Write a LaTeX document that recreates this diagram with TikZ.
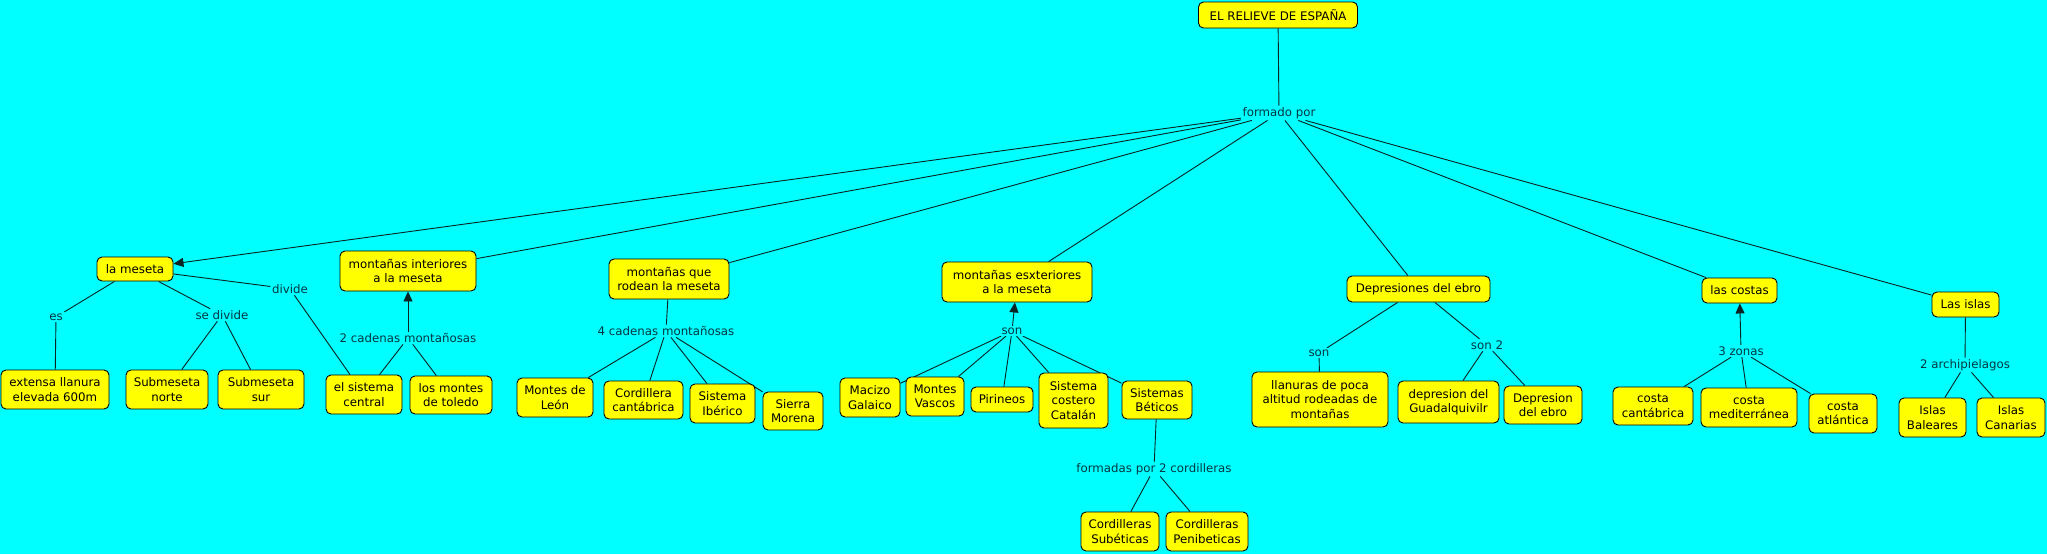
\documentclass[tikz,border=0pt]{standalone}
\usepackage{fontspec}
\setmainfont{DejaVu Sans}
\usetikzlibrary{arrows.meta}
\pgfdeclarelayer{bg}
\pgfdeclarelayer{edges}
\pgfsetlayers{bg,edges,main}
\definecolor{canvas}{RGB}{0,255,255}
\definecolor{concept}{RGB}{255,255,0}
\definecolor{labeltext}{RGB}{0,55,65}
\definecolor{edgecol}{RGB}{10,35,35}
\tikzset{
  x=1pt, y=-1pt,
  concept/.style={draw=black, fill=concept, rounded corners=5pt, line width=0.9pt,
    align=center, inner sep=1pt, font=\fontsize{11.8}{14.5}\selectfont,
    minimum width=#1},
  concept/.default=60pt,
  linklabel/.style={fill=canvas, inner sep=1.5pt, text=labeltext,
    font=\fontsize{11.8}{14.5}\selectfont},
  conn/.style={draw=edgecol, line width=0.9pt},
  arr/.style={conn, -{Triangle[length=10pt,width=9pt]}},
}
\newcommand{\cpt}[6]{\node[concept=#4pt, minimum height=#5pt] (#1) at (#2,#3) {#6};}
\begin{document}
\begin{tikzpicture}
\begin{pgfonlayer}{bg}
\fill[canvas] (0,0) rectangle (2047,554);
\end{pgfonlayer}
\useasboundingbox (0,0) rectangle (2047,554);

% concepts
\cpt{title}{1278}{15}{159}{26}{EL RELIEVE DE ESPAÑA}
\cpt{meseta}{135}{269}{76}{24}{la meseta}
\cpt{interiores}{408}{271}{136}{40}{montañas interiores\\a la meseta}
\cpt{rodean}{669}{279}{120}{40}{montañas que\\rodean la meseta}
\cpt{exteriores}{1017}{282}{150}{40}{montañas esxteriores\\a la meseta}
\cpt{depresiones}{1418.5}{289}{143}{26}{Depresiones del ebro}
\cpt{costas}{1739.5}{290.5}{75}{25}{las costas}
\cpt{islas}{1965.5}{304.5}{67}{25}{Las islas}
\cpt{extensa}{55}{389.5}{108}{39}{extensa llanura\\elevada 600m}
\cpt{subnorte}{167}{389.5}{82}{39}{Submeseta\\norte}
\cpt{subsur}{261}{389.5}{86}{39}{Submeseta\\sur}
\cpt{central}{364}{394.5}{76}{39}{el sistema\\central}
\cpt{toledo}{451}{395}{82}{38}{los montes\\de toledo}
\cpt{leon}{555}{397.5}{76}{39}{Montes de\\León}
\cpt{cantabrica}{643.5}{400}{79}{38}{Cordillera\\cantábrica}
\cpt{iberico}{722.5}{403.5}{65}{39}{Sistema\\Ibérico}
\cpt{morena}{793}{411}{60}{38}{Sierra\\Morena}
\cpt{galaico}{870}{397.5}{60}{39}{Macizo\\Galaico}
\cpt{vascos}{935}{396.5}{58}{39}{Montes\\Vascos}
\cpt{pirineos}{1002}{399.5}{62}{25}{Pirineos}
\cpt{catalan}{1073.5}{400.5}{69}{55}{Sistema\\costero\\Catalán}
\cpt{beticos}{1157}{400}{70}{38}{Sistemas\\Béticos}
\cpt{subeticas}{1120}{531.5}{78}{39}{Cordilleras\\Subéticas}
\cpt{penibeticas}{1207}{531.5}{82}{39}{Cordilleras\\Penibeticas}
\cpt{llanuras}{1320}{399.5}{136}{55}{llanuras de poca\\altitud rodeadas de\\montañas}
\cpt{guadalquivir}{1448.5}{402}{101}{42}{depresion del\\Guadalquivilr}
\cpt{depebro}{1543}{405}{78}{38}{Depresion\\del ebro}
\cpt{ccantabrica}{1653}{406}{80}{38}{costa\\cantábrica}
\cpt{mediterranea}{1749}{407.5}{96}{39}{costa\\mediterránea}
\cpt{atlantica}{1843}{413.5}{68}{39}{costa\\atlántica}
\cpt{baleares}{1932.5}{417.5}{67}{39}{Islas\\Baleares}
\cpt{canarias}{2011}{417.5}{68}{39}{Islas\\Canarias}

% link labels
\node[linklabel] (formado) at (1279,113) {formado por};
\node[linklabel] (divide) at (290,289) {divide};
\node[linklabel] (es) at (56,317) {es};
\node[linklabel] (sedivide) at (222,315) {se divide};
\node[linklabel] (cadenas2) at (408,338) {2 cadenas montañosas};
\node[linklabel] (cadenas4) at (666,331) {4 cadenas montañosas};
\node[linklabel] (son) at (1012,331) {son};
\node[linklabel] (formadas) at (1154,469) {formadas por 2 cordilleras};
\node[linklabel] (sonl) at (1319,353) {son};
\node[linklabel] (son2) at (1487,345) {son 2};
\node[linklabel] (zonas) at (1741,351) {3 zonas};
\node[linklabel] (archip) at (1965,365) {2 archipielagos};

% connectors
\begin{pgfonlayer}{edges}
\draw[conn] (title) -- (formado);
\draw[arr] (formado) -- (meseta);
\foreach \t in {interiores,rodean,exteriores,depresiones,costas,islas}
  \draw[conn] (formado) -- (\t);
\draw[conn] (meseta) -- (es);
\draw[conn] (es) -- (extensa);
\draw[conn] (meseta) -- (sedivide);
\draw[conn] (sedivide) -- (subnorte);
\draw[conn] (sedivide) -- (subsur);
\draw[conn] (meseta) -- (divide);
\draw[conn] (divide) -- (central);
\draw[conn] (central) -- (cadenas2);
\draw[conn] (toledo) -- (cadenas2);
\draw[arr] (cadenas2) -- (interiores);
\draw[conn] (rodean) -- (cadenas4);
\foreach \t in {leon,cantabrica,iberico,morena}
  \draw[conn] (cadenas4) -- (\t);
\foreach \t in {galaico,vascos,pirineos,catalan,beticos}
  \draw[conn] (\t) -- (son);
\draw[arr] (son) -- (exteriores);
\draw[conn] (beticos) -- (formadas);
\draw[conn] (formadas) -- (subeticas);
\draw[conn] (formadas) -- (penibeticas);
\draw[conn] (depresiones) -- (sonl);
\draw[conn] (sonl) -- (llanuras);
\draw[conn] (depresiones) -- (son2);
\draw[conn] (son2) -- (guadalquivir);
\draw[conn] (son2) -- (depebro);
\draw[arr] (zonas) -- (costas);
\foreach \t in {ccantabrica,mediterranea,atlantica}
  \draw[conn] (zonas) -- (\t);
\draw[conn] (islas) -- (archip);
\draw[conn] (archip) -- (baleares);
\draw[conn] (archip) -- (canarias);
\end{pgfonlayer}
\end{tikzpicture}
\end{document}
